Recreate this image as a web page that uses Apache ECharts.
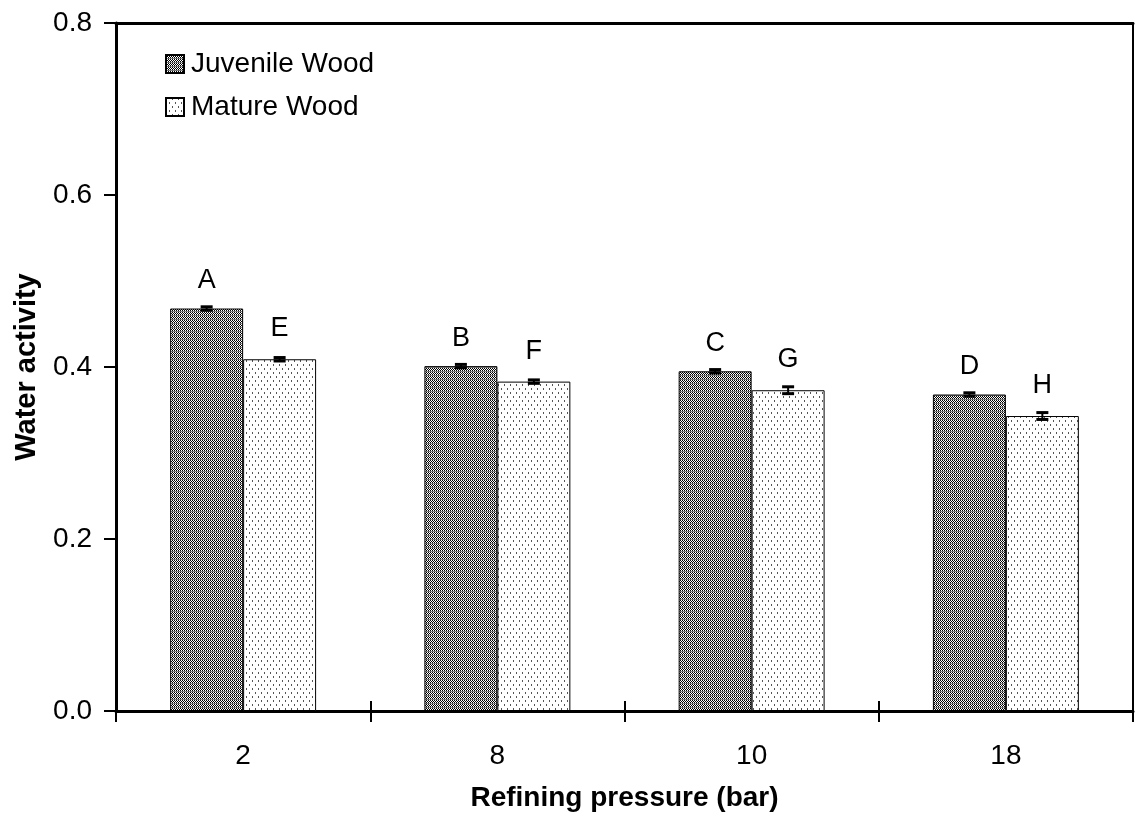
<!DOCTYPE html>
<html>
<head>
<meta charset="utf-8">
<title>Water activity by refining pressure</title>
<script src="https://cdn.jsdelivr.net/npm/echarts@6/dist/echarts.min.js"></script>
<style>
  html, body { margin: 0; padding: 0; background: #fff; }
  #chart { width: 1136px; height: 820px; }
</style>
</head>
<body>
<div id="chart"></div>
<script>
// Refining pressure groups (bar)
const categories = ['2', '8', '10', '18'];
// Mean water activity per wood type
const juvenile = [0.468, 0.401, 0.395, 0.368];
const mature = [0.409, 0.383, 0.373, 0.343];
// Standard deviations
const juvenileErr = [0.002, 0.002, 0.002, 0.002];
const matureErr = [0.002, 0.002, 0.004, 0.004];
// Significance letters
const juvenileLetters = ['A', 'B', 'C', 'D'];
const matureLetters = ['E', 'F', 'G', 'H'];
// Value axis ticks
const yTicks = [0, 0.2, 0.4, 0.6, 0.8];

const FONT = "'Liberation Sans', Arial, sans-serif";
const BAR_FRACTION = 0.287;

// Dense dark fill: rows of pixel checkerboard separated by a grey row
function juvenilePattern() {
  const c = document.createElement('canvas');
  c.width = 2; c.height = 4;
  const g = c.getContext('2d');
  for (let y = 0; y < 4; y++) {
    for (let x = 0; x < 2; x++) {
      if (y === 3) g.fillStyle = '#7a7a7a';
      else g.fillStyle = ((x + y) % 2 === 0) ? '#000000' : '#ffffff';
      g.fillRect(x, y, 1, 1);
    }
  }
  return c;
}

// Light fill: sparse staggered dots on white
function maturePattern() {
  const c = document.createElement('canvas');
  c.width = 6; c.height = 8;
  const g = c.getContext('2d');
  g.fillStyle = '#ffffff';
  g.fillRect(0, 0, 6, 8);
  g.fillStyle = '#555555';
  g.fillRect(0, 0, 1, 2);
  g.fillRect(3, 4, 1, 2);
  return c;
}

const juvFill = { image: juvenilePattern(), repeat: 'repeat' };
const matFill = { image: maturePattern(), repeat: 'repeat' };

function errorItem(side) {
  return function (params, api) {
    const idx = api.value(0);
    const v = api.value(1);
    const e = api.value(2);
    const band = api.size([1, 0])[0];
    const barW = band * BAR_FRACTION;
    const cx = api.coord([idx, v])[0] + side * barW / 2;
    const yTop = api.coord([idx, v + e])[1];
    const yBot = api.coord([idx, v - e])[1];
    const half = 6;
    const style = { stroke: '#000', lineWidth: 3 };
    return {
      type: 'group',
      children: [
        { type: 'line', shape: { x1: cx, y1: yTop, x2: cx, y2: yBot }, style: { stroke: '#000', lineWidth: 2 } },
        { type: 'line', shape: { x1: cx - half, y1: yTop, x2: cx + half, y2: yTop }, style },
        { type: 'line', shape: { x1: cx - half, y1: yBot, x2: cx + half, y2: yBot }, style }
      ]
    };
  };
}

const chart = echarts.init(document.getElementById('chart'), null, { renderer: 'canvas' });

const option = {
  animation: false,
  backgroundColor: '#ffffff',
  textStyle: { fontFamily: FONT, color: '#000' },
  grid: { left: 116, right: 3, top: 23, bottom: 109, containLabel: false },
  legend: {
    orient: 'vertical',
    left: 165,
    top: 50,
    padding: 0,
    itemWidth: 18,
    itemHeight: 18,
    itemGap: 15,
    icon: 'rect',
    data: ['Juvenile Wood', 'Mature Wood'],
    textStyle: { fontFamily: FONT, fontSize: 28, color: '#000', padding: [0, 0, 0, 2] }
  },
  xAxis: [
    {
      type: 'category',
      data: categories,
      position: 'bottom',
      boundaryGap: true,
      name: 'Refining pressure (bar)',
      nameLocation: 'middle',
      nameGap: 73,
      nameMoveOverlap: false,
      nameTextStyle: { fontFamily: FONT, fontSize: 28, fontWeight: 'bold', color: '#000' },
      axisLine: { show: true, lineStyle: { color: '#000', width: 3 } },
      axisTick: { show: true, interval: 0, inside: false, length: 11, lineStyle: { color: '#000', width: 2 } },
      axisLabel: { fontFamily: FONT, fontSize: 28, color: '#000', margin: 31 },
      splitLine: { show: false }
    },
    {
      type: 'category',
      data: categories,
      position: 'bottom',
      offset: 0,
      boundaryGap: true,
      axisLine: { show: true, lineStyle: { color: 'rgba(0,0,0,0)', width: 0 } },
      axisTick: { show: true, interval: 0, inside: true, length: 10, lineStyle: { color: '#000', width: 2 } },
      axisLabel: { show: false },
      splitLine: { show: false }
    },
    {
      type: 'category',
      data: categories,
      position: 'top',
      offset: 0,
      axisLine: { show: true, lineStyle: { color: '#000', width: 3 } },
      axisTick: { show: false },
      axisLabel: { show: false },
      splitLine: { show: false }
    }
  ],
  yAxis: [
    {
      type: 'value',
      min: yTicks[0],
      max: yTicks[yTicks.length - 1],
      interval: 0.2,
      name: 'Water activity',
      nameLocation: 'middle',
      nameGap: 75,
      nameMoveOverlap: false,
      nameTextStyle: { fontFamily: FONT, fontSize: 29, fontWeight: 'bold', color: '#000' },
      axisLine: { show: true, lineStyle: { color: '#000', width: 3 } },
      axisTick: { show: true, inside: false, length: 12, lineStyle: { color: '#000', width: 2 } },
      axisLabel: {
        fontFamily: FONT, fontSize: 28, color: '#000', margin: 24,
        formatter: function (v) { return v.toFixed(1); }
      },
      splitLine: { show: false }
    },
    {
      type: 'value',
      position: 'right',
      min: yTicks[0],
      max: yTicks[yTicks.length - 1],
      interval: 0.2,
      axisLine: { show: true, lineStyle: { color: '#000', width: 2 } },
      axisTick: { show: false },
      axisLabel: { show: false },
      splitLine: { show: false }
    }
  ],
  series: [
    {
      name: 'Juvenile Wood',
      type: 'bar',
      xAxisIndex: 0,
      yAxisIndex: 0,
      data: juvenile,
      barWidth: (BAR_FRACTION * 100) + '%',
      barGap: '0%',
      itemStyle: { color: juvFill, borderColor: '#000', borderWidth: 1 },
      label: {
        show: true, position: 'top', distance: 14,
        fontFamily: FONT, fontSize: 27, color: '#000',
        formatter: function (p) { return juvenileLetters[p.dataIndex]; }
      }
    },
    {
      name: 'Mature Wood',
      type: 'bar',
      xAxisIndex: 0,
      yAxisIndex: 0,
      data: mature,
      barWidth: (BAR_FRACTION * 100) + '%',
      barGap: '0%',
      itemStyle: { color: matFill, borderColor: '#000', borderWidth: 1 },
      label: {
        show: true, position: 'top', distance: 17,
        fontFamily: FONT, fontSize: 27, color: '#000',
        formatter: function (p) { return matureLetters[p.dataIndex]; }
      }
    },
    {
      name: 'Juvenile error',
      type: 'custom',
      xAxisIndex: 0,
      yAxisIndex: 0,
      renderItem: errorItem(-1),
      encode: { x: 0, y: 1 },
      data: juvenile.map(function (v, i) { return [i, v, juvenileErr[i]]; }),
      z: 10
    },
    {
      name: 'Mature error',
      type: 'custom',
      xAxisIndex: 0,
      yAxisIndex: 0,
      renderItem: errorItem(1),
      encode: { x: 0, y: 1 },
      data: mature.map(function (v, i) { return [i, v, matureErr[i]]; }),
      z: 10
    }
  ]
};

chart.setOption(option);
</script>
</body>
</html>
